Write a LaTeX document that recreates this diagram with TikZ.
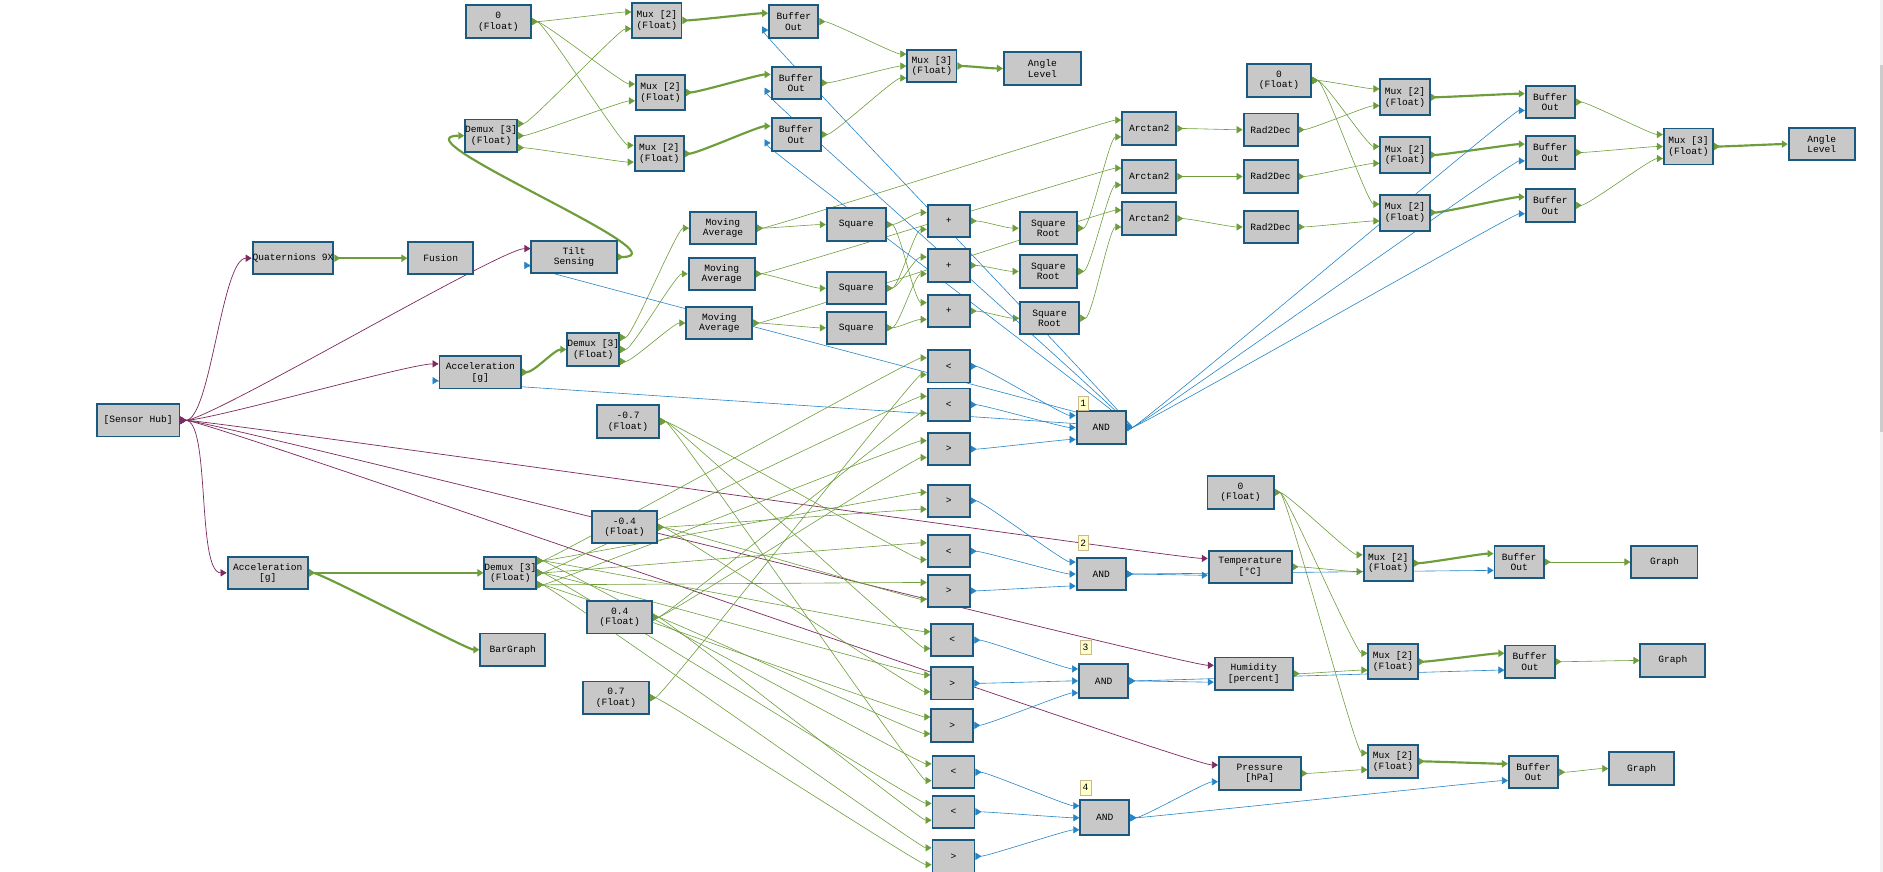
\documentclass[tikz,border=0pt]{standalone}
\usepackage{fontspec}
\usepackage{tikz}
\usetikzlibrary{arrows.meta, backgrounds}
\newfontfamily\diagfont{Liberation Mono}
\definecolor{boxfill}{HTML}{C8C8C8}
\definecolor{boxline}{HTML}{1B5A80}
\definecolor{wiregreen}{HTML}{6E9D3B}
\definecolor{wireblue}{HTML}{2585C7}
\definecolor{wirepurple}{HTML}{7E2C60}
\definecolor{tagfill}{HTML}{FFFFCC}
\definecolor{tagline}{HTML}{C9B98C}

\begin{document}
\begin{tikzpicture}[
  x=1pt, y=-1pt,
  blk/.style={
    draw=boxline, fill=boxfill, line width=1.6pt,
    minimum width=41pt, minimum height=27pt, inner sep=0pt,
    align=center, font={\diagfont\fontsize{8}{8.8}\selectfont}
  },
  tag/.style={
    draw=tagline, fill=tagfill, inner sep=0pt,
    minimum width=9pt, minimum height=12pt,
    font={\diagfont\fontsize{8}{8.8}\selectfont}
  },
  link/.style={to path={.. controls +(#1,0) and +(-#1,0) .. (\tikztotarget)}},
  link/.default=10pt,
  tips/.style={arrows={Triangle[reversed, length=5pt, width=6pt]-Triangle[length=5pt, width=6pt]}},
  gw/.style={tips, link, wiregreen, line width=0.5pt},
  gk/.style={tips, link, wiregreen, line width=1.8pt},
  bw/.style={tips, link, wireblue, line width=0.5pt},
  pw/.style={tips, link=25pt, wirepurple, line width=0.6pt}
]
\useasboundingbox (0,0) rectangle (1568,726);

% ---- Sensor hub ----
\node[blk, minimum width=69pt] (hub) at (115,350) {[Sensor Hub]};
\node[blk, minimum width=66pt] (quat) at (244,215) {Quaternions 9X};
\node[blk, minimum width=54pt] (fusion) at (367,215) {Fusion};
\node[blk, minimum width=71pt] (tilt) at (478,214) {Tilt\\Sensing};
\node[blk, minimum width=68pt] (accA) at (400,310) {Acceleration\\{}[g]};
\node[blk, minimum width=67pt] (accB) at (223,477) {Acceleration\\{}[g]};

% ---- Tilt angle (top left) ----
\node[blk, minimum width=54pt] (zeroA) at (415,18) {0\\(Float)};
\node[blk] (demuxA) at (409,113) {Demux [3]\\(Float)};
\node[blk, minimum height=29pt] (muxA1) at (547,17) {Mux [2]\\(Float)};
\node[blk, minimum height=29pt] (muxA2) at (550,77) {Mux [2]\\(Float)};
\node[blk, minimum height=29pt] (muxA3) at (549,128) {Mux [2]\\(Float)};
\node[blk] (bufA1) at (661,18) {Buffer\\Out};
\node[blk] (bufA2) at (663,69) {Buffer\\Out};
\node[blk] (bufA3) at (663,112) {Buffer\\Out};
\node[blk] (mux3A) at (776,55) {Mux [3]\\(Float)};
\node[blk, minimum width=64pt] (angleA) at (868,57) {Angle\\Level};

% ---- Angles from acceleration ----
\node[blk] (demuxB) at (494,291) {Demux [3]\\(Float)};
\node[blk, minimum width=55pt] (ma1) at (602,190) {Moving\\Average};
\node[blk, minimum width=55pt] (ma2) at (601,228) {Moving\\Average};
\node[blk, minimum width=55pt] (ma3) at (599,269) {Moving\\Average};
\node[blk, minimum width=49pt] (sq1) at (713,187) {Square};
\node[blk, minimum width=49pt] (sq2) at (713,240) {Square};
\node[blk, minimum width=49pt] (sq3) at (713,273) {Square};
\node[blk, minimum width=35pt] (plus1) at (790,184) {+};
\node[blk, minimum width=35pt] (plus2) at (790,221) {+};
\node[blk, minimum width=35pt] (plus3) at (790,259) {+};
\node[blk, minimum width=48pt] (sr1) at (873,190) {Square\\Root};
\node[blk, minimum width=48pt] (sr2) at (873,226) {Square\\Root};
\node[blk, minimum width=49pt] (sr3) at (874,265) {Square\\Root};
\node[blk, minimum width=45pt] (at1) at (957,107) {Arctan2};
\node[blk, minimum width=45pt] (at2) at (957,147) {Arctan2};
\node[blk, minimum width=45pt] (at3) at (957,182) {Arctan2};
\node[blk, minimum width=45pt] (rd1) at (1058,108) {Rad2Dec};
\node[blk, minimum width=45pt] (rd2) at (1058,147) {Rad2Dec};
\node[blk, minimum width=45pt] (rd3) at (1058,189) {Rad2Dec};
\node[blk, minimum width=54pt] (zeroB) at (1065,67) {0\\(Float)};
\node[blk, minimum height=30pt] (muxB1) at (1170,81) {Mux [2]\\(Float)};
\node[blk, minimum height=30pt] (muxB2) at (1170,129) {Mux [2]\\(Float)};
\node[blk, minimum height=30pt] (muxB3) at (1170,177) {Mux [2]\\(Float)};
\node[blk] (bufB1) at (1291,85) {Buffer\\Out};
\node[blk] (bufB2) at (1291,127) {Buffer\\Out};
\node[blk] (bufB3) at (1291,171) {Buffer\\Out};
\node[blk, minimum height=30pt] (mux3B) at (1406,122) {Mux [3]\\(Float)};
\node[blk, minimum width=55pt] (angleB) at (1517,120) {Angle\\Level};

% ---- Orientation test ----
\node[blk] (demuxC) at (425,477) {Demux [3]\\(Float)};
\node[blk, minimum width=54pt] (bargraph) at (427,541) {BarGraph};
\node[blk, minimum width=52pt] (cm07) at (523,351) {-0.7\\(Float)};
\node[blk, minimum width=54pt] (cm04) at (520,439) {-0.4\\(Float)};
\node[blk, minimum width=54pt] (cp04) at (516,514) {0.4\\(Float)};
\node[blk, minimum width=55pt] (cp07) at (513,581) {0.7\\(Float)};
\foreach \n/\s/\x/\y in {c1/</790/305, c2/</790/337, c3/>/790/374,
    c4/>/790/417, c5/</790/459, c6/>/790/492, c7/</793/533, c8/>/793/569,
    c9/>/793/604, c10/</794/643, c11/</794/676, c12/>/794/713}
  \node[blk, minimum width=35pt] (\n) at (\x,\y) {\s};
\node[blk, minimum height=28pt] (and1) at (917,356) {AND};
\node[blk] (and2) at (917,478) {AND};
\node[blk, minimum height=28pt] (and3) at (919,567) {AND};
\node[blk, minimum height=29pt] (and4) at (920,681) {AND};
\node[tag] (tag1) at (902,336) {1};
\node[tag] (tag2) at (902,452) {2};
\node[tag] (tag3) at (904,539) {3};
\node[tag] (tag4) at (904,656) {4};

% ---- Environment graphs ----
\node[blk, minimum width=69pt] (temp) at (1041,472) {Temperature\\{}[°C]};
\node[blk, minimum width=65pt] (humid) at (1044,561) {Humidity\\{}[percent]};
\node[blk, minimum width=68pt] (press) at (1049,644) {Pressure\\{}[hPa]};
\node[blk, minimum width=55pt] (zeroC) at (1033,410) {0\\(Float)};
\node[blk, minimum height=29pt] (muxC1) at (1156,469) {Mux [2]\\(Float)};
\node[blk, minimum height=29pt] (muxC2) at (1160,551) {Mux [2]\\(Float)};
\node[blk, minimum height=28pt] (muxC3) at (1160,634) {Mux [2]\\(Float)};
\node[blk] (bufC1) at (1265,468) {Buffer\\Out};
\node[blk] (bufC2) at (1274,551) {Buffer\\Out};
\node[blk] (bufC3) at (1277,643) {Buffer\\Out};
\node[blk, minimum width=55pt] (graph1) at (1386,468) {Graph};
\node[blk, minimum width=54pt] (graph2) at (1393,550) {Graph};
\node[blk, minimum width=54pt] (graph3) at (1367,640) {Graph};

\begin{scope}[on background layer]
  % scroll bar
  \fill[gray!10] (1565.5,0) rectangle (1568,726);
  \fill[gray!40] (1565.5,54) rectangle (1568,360);

  % Sensor hub outputs
  \foreach \b/\q in {quat/0, tilt/7, accA/7, temp/7, humid/7, press/7, accB/0}
    \draw[pw] (hub.east) to ([yshift=\q pt]\b.west);

  % thick data paths
  \foreach \a/\b/\q in {quat/fusion/0, accA/demuxB/0, accB/demuxC/0,
      accB/bargraph/0, muxA1/bufA1/7, muxA2/bufA2/7, muxA3/bufA3/7,
      mux3A/angleA/0, muxB1/bufB1/7, muxB2/bufB2/7, muxB3/bufB3/7,
      mux3B/angleB/0, muxC1/bufC1/7, muxC2/bufC2/7, muxC3/bufC3/7}
    \draw[gk] (\a.east) to ([yshift=\q pt]\b.west);
  \draw[gk, link=60pt] (tilt.east) to (demuxA.west);

  % thin data paths
  \foreach \a/\p/\b/\q in {zeroA/0/muxA1/7, zeroA/0/muxA2/7, zeroA/0/muxA3/7,
      demuxA/10/muxA1/-7, demuxA/0/muxA2/-7, demuxA/-10/muxA3/-7,
      bufA1/0/mux3A/10, bufA2/0/mux3A/0, bufA3/0/mux3A/-10,
      demuxB/10/ma1/0, demuxB/0/ma2/0, demuxB/-10/ma3/0,
      ma1/0/sq1/0, ma2/0/sq2/0, ma3/0/sq3/0,
      ma1/0/at1/7, ma2/0/at2/7, ma3/0/at3/7,
      sq1/0/plus1/7, sq1/0/plus3/7, sq2/0/plus1/-7,
      sq2/0/plus2/7, sq3/0/plus2/-7, sq3/0/plus3/-7,
      plus1/0/sr1/0, plus2/0/sr2/0, plus3/0/sr3/0,
      sr1/0/at1/-7, sr2/0/at2/-7, sr3/0/at3/-7,
      at1/0/rd1/0, at2/0/rd2/0, at3/0/rd3/0,
      zeroB/0/muxB1/7, zeroB/0/muxB2/7, zeroB/0/muxB3/7,
      rd1/0/muxB1/-7, rd2/0/muxB2/-7, rd3/0/muxB3/-7,
      bufB1/0/mux3B/10, bufB2/0/mux3B/0, bufB3/0/mux3B/-10,
      demuxC/10/c1/7, demuxC/0/c2/7, demuxC/-10/c3/7,
      demuxC/10/c4/7, demuxC/0/c5/7, demuxC/-10/c6/7,
      demuxC/10/c7/7, demuxC/0/c8/7, demuxC/-10/c9/7,
      demuxC/10/c10/7, demuxC/0/c11/7, demuxC/-10/c12/7,
      cp07/0/c1/-7, cp04/0/c2/-7, cp04/0/c3/-7, cm04/0/c4/-7,
      cm07/0/c5/-7, cm04/0/c6/-7, cm07/0/c7/-7, cm04/0/c8/-7,
      cp04/0/c9/-7, cm07/0/c10/-7, cp04/0/c11/-7, cp07/0/c12/-7,
      zeroC/0/muxC1/7, zeroC/0/muxC2/7, zeroC/0/muxC3/7,
      temp/0/muxC1/-7, humid/0/muxC2/-7, press/0/muxC3/-7,
      bufC1/0/graph1/0, bufC2/0/graph2/0, bufC3/0/graph3/0}
    \draw[gw] ([yshift=\p pt]\a.east) to ([yshift=\q pt]\b.west);

  % enable signals
  \foreach \a/\b/\q in {c1/and1/10, c2/and1/0, c3/and1/-10,
      c4/and2/10, c5/and2/0, c6/and2/-10,
      c7/and3/10, c8/and3/0, c9/and3/-10,
      c10/and4/10, c11/and4/0, c12/and4/-10,
      and1/accA/-7, and1/tilt/-7, and1/bufA1/-7, and1/bufA2/-7,
      and1/bufA3/-7, and1/bufB1/-7, and1/bufB2/-7, and1/bufB3/-7,
      and2/temp/-7, and2/bufC1/-7, and3/humid/-7, and3/bufC2/-7,
      and4/press/-7, and4/bufC3/-7}
    \draw[bw] (\a.east) to ([yshift=\q pt]\b.west);
\end{scope}

\end{tikzpicture}
\end{document}
